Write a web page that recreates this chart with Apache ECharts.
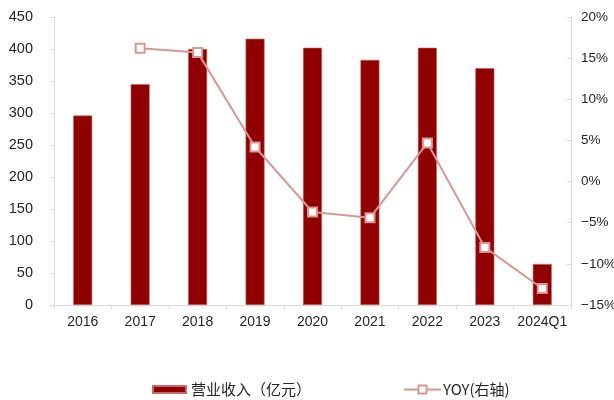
<!DOCTYPE html>
<html>
<head>
<meta charset="utf-8">
<script src="https://cdn.jsdelivr.net/npm/echarts@6/dist/echarts.min.js"></script>
<style>
  html, body { margin: 0; padding: 0; background: #fff; }
  #chart { width: 614px; height: 400px; }
</style>
</head>
<body>
<div id="chart"></div>
<script>
// Revenue (100 million yuan) and year-over-year growth (%)
const categories = ['2016', '2017', '2018', '2019', '2020', '2021', '2022', '2023', '2024Q1'];
const revenue = [296, 345, 400, 416, 402, 383, 402, 370, 64];
const yoy = [null, 16.2, 15.7, 4.2, -3.7, -4.4, 4.7, -8.0, -13.0];

const leftTicks = { min: 0, max: 450, interval: 50 };
const rightTicks = { min: -15, max: 20, interval: 5 };

const barName = '营业收入（亿元）';
const lineName = 'YOY(右轴)';

const barColor = '#900000';
const lineColor = '#d99694';
const axisGrey = '#d9d9d9';
const labelColor = '#262626';
const latin = 'Liberation Sans, Arial, sans-serif';
const cjk = 'Noto Sans CJK SC, sans-serif';

const chart = echarts.init(document.getElementById('chart'), null, { renderer: 'canvas' });

chart.setOption({
  animation: false,
  backgroundColor: '#fff',
  grid: { left: 54, right: 43, top: 17, bottom: 95, containLabel: false, outerBoundsMode: 'none' },
  legend: [
    {
      left: 147,
      top: 377,
      itemWidth: 33,
      itemHeight: 7,
      textStyle: { fontFamily: cjk, fontSize: 15, color: labelColor },
      data: [{ name: barName, icon: 'rect' }]
    },
    {
      left: 398,
      top: 377,
      itemWidth: 37,
      itemHeight: 10,
      textStyle: { fontFamily: cjk, fontSize: 15, color: labelColor, padding: [0, 0, 0, -3] },
      data: [{ name: lineName }]
    }
  ],
  xAxis: {
    type: 'category',
    data: categories,
    axisLine: { lineStyle: { color: axisGrey, width: 1 } },
    axisTick: { show: true, alignWithLabel: false, length: 4, lineStyle: { color: axisGrey } },
    axisLabel: { color: labelColor, fontFamily: latin, fontSize: 14, margin: 10, interval: 0 }
  },
  yAxis: [
    {
      type: 'value',
      min: leftTicks.min, max: leftTicks.max, interval: leftTicks.interval,
      axisLine: { show: true, lineStyle: { color: axisGrey } },
      axisTick: { show: true, length: 4, lineStyle: { color: axisGrey } },
      splitLine: { show: false },
      axisLabel: { color: labelColor, fontFamily: latin, fontSize: 14.5, margin: 21 }
    },
    {
      type: 'value',
      position: 'right',
      min: rightTicks.min, max: rightTicks.max, interval: rightTicks.interval,
      axisLine: { show: true, lineStyle: { color: axisGrey } },
      axisTick: { show: true, inside: true, length: 4, lineStyle: { color: axisGrey } },
      splitLine: { show: false },
      axisLabel: {
        color: labelColor, fontFamily: latin, fontSize: 13.5, margin: 10,
        formatter: v => (v < 0 ? '\u2212' + Math.abs(v) : v) + '%'
      }
    }
  ],
  series: [
    {
      name: barName,
      type: 'bar',
      data: revenue,
      barWidth: 19,
      yAxisIndex: 0,
      itemStyle: { color: barColor, borderColor: '#c46a6a', borderWidth: 0.6 }
    },
    {
      name: lineName,
      type: 'line',
      data: yoy,
      yAxisIndex: 1,
      symbol: 'rect',
      symbolSize: 9,
      connectNulls: false,
      lineStyle: { color: lineColor, width: 2 },
      itemStyle: { color: '#ffffff', borderColor: lineColor, borderWidth: 2 }
    }
  ]
});
</script>
</body>
</html>
